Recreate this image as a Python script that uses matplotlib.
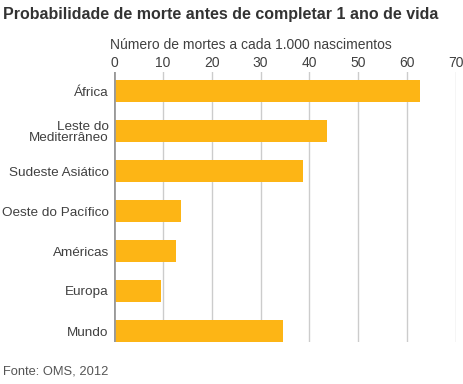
import matplotlib.pyplot as plt

plt.rcParams['font.family'] = ['Liberation Sans', 'DejaVu Sans']

# data
regions = ['África', 'Leste do\nMediterrâneo', 'Sudeste Asiático',
           'Oeste do Pacífico', 'Américas', 'Europa', 'Mundo']
deaths = [62.4, 43.4, 38.5, 13.5, 12.6, 9.4, 34.4]
xticks = [0, 10, 20, 30, 40, 50, 60, 70]

bar_color = '#FDB515'
text_color = '#404040'

fig = plt.figure(figsize=(4.64, 3.84), dpi=100)
ax = fig.add_axes([114 / 464, 1 - 342 / 384, (456 - 114) / 464, (342 - 72) / 384])

ypos = list(range(len(regions)))
ax.barh(ypos, deaths, height=0.55, color=bar_color, zorder=2, left=0.15)

ax.set_xlim(0, 70)
ax.set_ylim(6.275, -0.475)
ax.set_xticks(xticks)
ax.set_yticks(ypos)
ax.set_yticklabels(regions, fontsize=9.7, color=text_color, linespacing=0.9)
ax.xaxis.tick_top()
ax.tick_params(axis='x', length=0, pad=1.5, labelsize=10, labelcolor=text_color)
ax.tick_params(axis='y', length=0, pad=3.8)
ax.grid(axis='x', color='#cccccc', linewidth=1, zorder=0)
for s in ax.spines.values():
    s.set_visible(False)
ax.axvline(0, color='#999999', linewidth=2, zorder=3)

fig.text(3 / 464, 1 - 15 / 384, 'Probabilidade de morte antes de completar 1 ano de vida',
         fontsize=11.5, fontweight='bold', color='#333333', va='center', ha='left')
fig.text(110 / 464, 1 - 45 / 384, 'Número de mortes a cada 1.000 nascimentos',
         fontsize=10, color=text_color, va='center', ha='left')
fig.text(3 / 464, 1 - 371 / 384, 'Fonte: OMS, 2012',
         fontsize=9.3, color='#555555', va='center', ha='left')

fig.savefig('out.png', dpi=100)
